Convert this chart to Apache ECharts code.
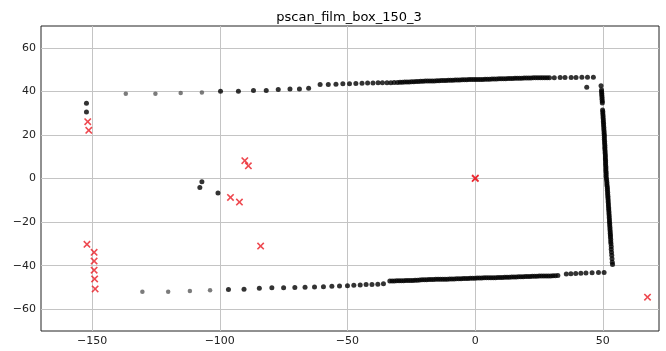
<!DOCTYPE html>
<html>
<head>
<meta charset="utf-8">
<script src="https://cdn.jsdelivr.net/npm/echarts@6/dist/echarts.min.js"></script>
<style>
  html, body { margin: 0; padding: 0; background: #fff; }
  #main { width: 666px; height: 351px; }
</style>
</head>
<body>
<div id="main"></div>
<script>
// scan points, [x, y]
const farPoints = [
  [-136.8, 38.9], [-125.2, 38.9], [-115.3, 39.2], [-107.0, 39.5],
  [-130.3, -52.0], [-120.2, -52.0], [-111.7, -51.6], [-103.8, -51.3]
]

const topEdge = [
  [-99.7, 40.0], [-92.7, 40.0], [-86.8, 40.4], [-81.8, 40.4], [-77.1, 40.8], [-72.5, 41.1],
  [-68.8, 41.1], [-65.2, 41.4], [-60.7, 43.2], [-57.5, 43.2], [-54.5, 43.3], [-51.8, 43.5],
  [-49.2, 43.5], [-46.7, 43.6], [-44.3, 43.7], [-42.1, 43.8], [-40.0, 43.8], [-38.0, 43.9],
  [-36.3, 43.9], [-34.5, 44.0], [-33.0, 44.0], [-31.7, 44.1], [-30.4, 44.1],
  [-29.4, 44.2], [-28.5, 44.2], [-27.6, 44.3], [-26.7, 44.3], [-25.8, 44.3], [-24.9, 44.4],
  [-24.0, 44.4], [-23.1, 44.5], [-22.2, 44.5], [-21.3, 44.6], [-20.4, 44.6], [-19.5, 44.7],
  [-18.6, 44.7], [-17.7, 44.7], [-16.8, 44.8], [-15.9, 44.8], [-15.0, 44.9], [-14.1, 44.9],
  [-13.2, 45.0], [-12.3, 45.0], [-11.4, 45.0], [-10.5, 45.1], [-9.6, 45.1], [-8.7, 45.1],
  [-7.8, 45.2], [-6.9, 45.2], [-6.0, 45.2], [-5.1, 45.3], [-4.2, 45.3], [-3.3, 45.3],
  [-2.4, 45.4], [-1.5, 45.4], [-0.6, 45.4], [0.3, 45.4], [1.2, 45.5], [2.1, 45.5],
  [3.0, 45.5], [3.9, 45.6], [4.8, 45.6], [5.7, 45.6], [6.6, 45.7], [7.5, 45.7],
  [8.4, 45.7], [9.3, 45.8], [10.2, 45.8], [11.1, 45.8], [12.0, 45.8], [12.9, 45.9],
  [13.8, 45.9], [14.7, 45.9], [15.6, 46.0], [16.5, 46.0], [17.4, 46.0], [18.3, 46.0],
  [19.2, 46.1], [20.1, 46.1], [21.0, 46.1], [21.9, 46.1], [22.8, 46.2], [23.7, 46.2],
  [24.6, 46.2], [25.5, 46.2], [26.4, 46.3], [27.3, 46.3], [28.2, 46.3], [29.1, 46.3],
  [31.0, 46.3], [33.3, 46.4], [35.2, 46.4], [37.6, 46.4], [39.5, 46.4], [41.8, 46.5],
  [44.0, 46.5], [46.3, 46.5], [43.7, 41.9]
]

const rightEdge = [
  [49.3, 42.6], [49.5, 40.6], [49.5, 39.8], [49.6, 39.0], [49.6, 38.2], [49.7, 37.3],
  [49.7, 36.4], [49.8, 35.5], [49.8, 34.6], [49.9, 31.5], [50.0, 30.6], [50.0, 29.7],
  [50.1, 28.8], [50.1, 27.9], [50.2, 27.0], [50.2, 26.1], [50.3, 25.2], [50.3, 24.3],
  [50.4, 23.4], [50.4, 22.5], [50.5, 21.6], [50.5, 20.7], [50.6, 19.8], [50.6, 18.9],
  [50.6, 18.0], [50.7, 17.1], [50.7, 16.2], [50.8, 15.3], [50.8, 14.4], [50.8, 13.5],
  [50.9, 12.6], [50.9, 11.7], [51.0, 10.8], [51.0, 9.9], [51.0, 9.0], [51.1, 8.1],
  [51.1, 7.2], [51.1, 6.3], [51.2, 5.4], [51.2, 4.5], [51.2, 3.6], [51.3, 2.7],
  [51.3, 1.8], [51.3, 0.9], [51.4, 0.0], [51.5, -0.9], [51.6, -1.8], [51.6, -2.7],
  [51.7, -3.6], [51.8, -4.5], [51.8, -5.4], [51.9, -6.3], [51.9, -7.2], [52.0, -8.1],
  [52.0, -9.0], [52.1, -9.9], [52.1, -10.8], [52.2, -11.7], [52.2, -12.6], [52.3, -13.5],
  [52.3, -14.4], [52.4, -15.3], [52.4, -16.2], [52.5, -17.1], [52.5, -18.0], [52.6, -18.9],
  [52.6, -19.8], [52.7, -20.7], [52.7, -21.6], [52.8, -22.5], [52.8, -23.4], [52.9, -24.3],
  [52.9, -25.2], [53.0, -26.1], [53.0, -27.0], [53.1, -28.0], [53.1, -29.0], [53.2, -30.0],
  [53.3, -31.2], [53.3, -32.5], [53.4, -33.8], [53.5, -35.2], [53.6, -36.8], [53.7, -38.4],
  [53.8, -39.5]
]

const bottomEdge = [
  [-96.6, -50.9], [-90.5, -50.8], [-84.5, -50.4], [-79.6, -50.2], [-75.0, -50.2], [-70.6, -50.0],
  [-66.6, -49.9], [-62.9, -49.8], [-59.4, -49.7], [-56.1, -49.5], [-53.1, -49.3], [-50.0, -49.2],
  [-47.5, -49.0], [-45.0, -48.9], [-42.7, -48.7], [-40.4, -48.6], [-38.1, -48.5], [-35.9, -48.3],
  [-33.4, -47.0], [-32.5, -47.0], [-31.6, -47.0], [-30.7, -46.9], [-29.8, -46.9], [-28.9, -46.9],
  [-28.0, -46.9], [-27.1, -46.8], [-26.2, -46.8], [-25.3, -46.8], [-24.4, -46.8], [-23.5, -46.7],
  [-22.6, -46.7], [-21.7, -46.6], [-20.8, -46.5], [-19.9, -46.5], [-19.0, -46.5], [-18.1, -46.4],
  [-17.2, -46.4], [-16.3, -46.4], [-15.4, -46.3], [-14.5, -46.3], [-13.6, -46.3], [-12.7, -46.2],
  [-11.8, -46.2], [-10.9, -46.2], [-10.0, -46.1], [-9.1, -46.1], [-8.2, -46.1], [-7.3, -46.0],
  [-6.4, -46.0], [-5.5, -46.0], [-4.6, -45.9], [-3.7, -45.9], [-2.8, -45.9], [-1.9, -45.8],
  [-1.0, -45.8], [-0.1, -45.8], [0.8, -45.7], [1.7, -45.7], [2.6, -45.7], [3.5, -45.6],
  [4.4, -45.6], [5.3, -45.6], [6.2, -45.5], [7.1, -45.5], [8.0, -45.5], [8.9, -45.4],
  [9.8, -45.4], [10.7, -45.4], [11.6, -45.3], [12.5, -45.3], [13.4, -45.3], [14.3, -45.2],
  [15.2, -45.2], [16.1, -45.2], [17.0, -45.1], [17.9, -45.1], [18.8, -45.1], [19.7, -45.0],
  [20.6, -45.0], [21.5, -45.0], [22.4, -44.9], [23.3, -44.9], [24.2, -44.9], [25.1, -44.8],
  [26.0, -44.8], [26.9, -44.8], [27.8, -44.7], [28.7, -44.7], [29.6, -44.7], [30.5, -44.6],
  [31.4, -44.6], [32.4, -44.5],
  [35.7, -43.8], [37.5, -43.7], [39.4, -43.6], [41.4, -43.5], [43.4, -43.4], [45.8, -43.3],
  [48.3, -43.2], [50.5, -43.1]
]

const loosePoints = [
  [-152.2, 34.5], [-152.2, 30.5],
  [-107.0, -1.5], [-107.8, -4.1], [-100.7, -6.6]
]

const crossPoints = [
  [-151.7, 26.1], [-151.3, 22.1],
  [-90.2, 8.2], [-88.8, 5.8],
  [-95.8, -8.7], [-92.3, -10.8],
  [-84.0, -31.0],
  [0.0, 0.0], [0.1, 0.2],
  [-152.0, -30.2], [-149.2, -33.9], [-149.2, -37.9], [-149.2, -42.1], [-149.0, -46.1], [-148.8, -50.7],
  [67.5, -54.5]
]

const xTicks = [-150, -100, -50, 0, 50]
const yTicks = [-60, -40, -20, 0, 20, 40, 60]

const crossPath = 'path://M0,1.5L1.5,0L5,3.5L8.5,0L10,1.5L6.5,5L10,8.5L8.5,10L5,6.5L1.5,10L0,8.5L3.5,5Z'
const fontFamily = 'DejaVu Sans'
const minus = v => String(v).replace('-', '\u2212')

const gridLines = []
xTicks.forEach(v => gridLines.push({xAxis: v}))
yTicks.forEach(v => gridLines.push({yAxis: v}))

const chart = echarts.init(document.getElementById('main'))
chart.setOption({
  animation: false,
  title: {
    text: 'pscan_film_box_150_3',
    left: 344,
    textAlign: 'center',
    top: 6,
    textStyle: {color: '#000', fontSize: 13, fontWeight: 'normal', fontFamily}
  },
  grid: {
    left: 41, right: 7, top: 26, bottom: 20,
    containLabel: false,
    show: true,
    borderColor: '#222',
    borderWidth: 1
  },
  xAxis: {
    type: 'value',
    min: -170,
    max: 72,
    axisLine: {show: false},
    splitLine: {show: false},
    axisTick: {show: true, length: 4, lineStyle: {color: '#222'}, customValues: xTicks},
    axisLabel: {color: '#222', fontSize: 11, fontFamily, margin: 5, customValues: xTicks, formatter: minus}
  },
  yAxis: {
    type: 'value',
    min: -70,
    max: 70,
    axisLine: {show: false},
    splitLine: {show: false},
    axisTick: {show: true, length: 4, lineStyle: {color: '#222'}, customValues: yTicks},
    axisLabel: {color: '#222', fontSize: 11, fontFamily, margin: 5, customValues: yTicks, formatter: minus}
  },
  series: [
    {
      type: 'scatter',
      data: [],
      z: 1,
      markLine: {
        silent: true,
        z: 1,
        symbol: 'none',
        label: {show: false},
        lineStyle: {color: '#c4c4c4', width: 1, type: 'solid'},
        data: gridLines
      }
    },
    {
      type: 'scatter',
      data: farPoints,
      symbolSize: 4.5,
      itemStyle: {color: '#5a5a5a'},
      z: 3
    },
    {
      type: 'scatter',
      data: topEdge.concat(rightEdge, bottomEdge, loosePoints),
      symbolSize: 5,
      itemStyle: {color: '#000'},
      z: 4
    },
    {
      type: 'scatter',
      data: crossPoints,
      symbol: crossPath,
      symbolSize: 7.5,
      itemStyle: {color: '#ea1c24'},
      z: 5
    }
  ]
})
</script>
</body>
</html>
